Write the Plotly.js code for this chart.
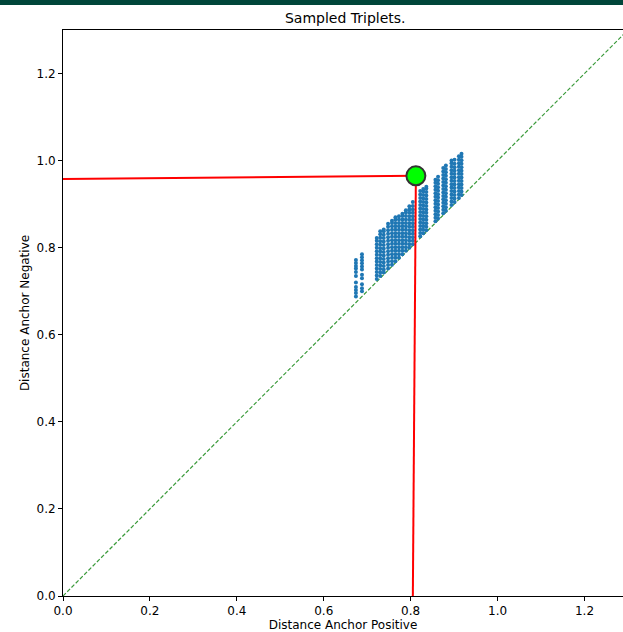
<!DOCTYPE html>
<html>
<head>
<meta charset="utf-8">
<script src="https://cdn.plot.ly/plotly-3.0.1.min.js"></script>
<style>
html,body{margin:0;padding:0;background:#fff;}
#bar{position:absolute;left:0;top:0;width:623px;height:5px;background:#00463a;z-index:10;}
#chart{width:623px;height:632px;}
</style>
</head>
<body>
<div id="bar"></div>
<div id="chart"></div>
<script>
// Sampled triplets: each column = one anchor-positive distance, many negatives
const colX = [0.674, 0.688, 0.722, 0.730, 0.738, 0.748, 0.757, 0.765, 0.773, 0.781, 0.789, 0.797, 0.805,
              0.822, 0.829, 0.836, 0.857, 0.863, 0.875, 0.881, 0.894, 0.901, 0.911, 0.917];
const colY = [
  [0.688,0.696,0.703,0.710,0.720,0.735,0.744,0.752,0.758,0.765,0.772],
  [0.700,0.707,0.716,0.730,0.738,0.750,0.757,0.764,0.771,0.778,0.785],
  [0.728,0.736,0.744,0.752,0.760,0.768,0.776,0.784,0.792,0.800,0.808,0.816,0.822],
  [0.735,0.743,0.751,0.759,0.767,0.775,0.783,0.791,0.799,0.807,0.815,0.823,0.831,0.838],
  [0.743,0.750,0.758,0.766,0.774,0.782,0.790,0.798,0.806,0.814,0.822,0.830,0.838,0.842],
  [0.752,0.760,0.768,0.776,0.784,0.792,0.800,0.808,0.816,0.824,0.832,0.840,0.848,0.855],
  [0.761,0.769,0.777,0.785,0.793,0.801,0.809,0.817,0.825,0.833,0.841,0.849,0.857,0.862],
  [0.769,0.777,0.785,0.793,0.801,0.809,0.817,0.825,0.833,0.841,0.849,0.857,0.865,0.870],
  [0.777,0.785,0.793,0.801,0.809,0.817,0.825,0.833,0.841,0.849,0.857,0.865,0.872],
  [0.785,0.793,0.801,0.809,0.817,0.825,0.833,0.841,0.849,0.857,0.865,0.873,0.878],
  [0.793,0.801,0.809,0.817,0.825,0.833,0.841,0.849,0.857,0.865,0.873,0.881,0.886],
  [0.800,0.808,0.816,0.824,0.832,0.840,0.848,0.856,0.864,0.872,0.880,0.888,0.895],
  [0.808,0.816,0.824,0.832,0.840,0.848,0.856,0.864,0.872,0.880,0.888,0.896,0.905],
  [0.826,0.834,0.842,0.850,0.858,0.866,0.874,0.882,0.890,0.898,0.906,0.914,0.922,0.930],
  [0.833,0.841,0.849,0.857,0.865,0.873,0.881,0.889,0.897,0.905,0.913,0.921,0.929,0.935],
  [0.840,0.848,0.856,0.864,0.872,0.880,0.888,0.896,0.904,0.912,0.920,0.928,0.936,0.940],
  [0.861,0.869,0.877,0.885,0.893,0.901,0.909,0.917,0.925,0.933,0.941,0.949,0.956],
  [0.867,0.875,0.883,0.891,0.899,0.907,0.915,0.923,0.931,0.939,0.947,0.955,0.963],
  [0.879,0.887,0.895,0.903,0.911,0.919,0.927,0.935,0.943,0.951,0.959,0.967,0.975,0.983],
  [0.885,0.893,0.901,0.909,0.917,0.925,0.933,0.941,0.949,0.957,0.965,0.973,0.981,0.989],
  [0.898,0.906,0.914,0.922,0.930,0.938,0.946,0.954,0.962,0.970,0.978,0.986,0.994,1.000],
  [0.905,0.913,0.921,0.929,0.937,0.945,0.953,0.961,0.969,0.977,0.985,0.993,1.002],
  [0.914,0.922,0.930,0.938,0.946,0.954,0.962,0.970,0.978,0.986,0.994,1.002,1.010],
  [0.921,0.929,0.937,0.945,0.953,0.961,0.969,0.977,0.985,0.993,1.001,1.009,1.016]
];
// Highlighted triplet and its projections onto the axes
const hlX = [0.812];
const hlY = [0.965];
const vLineX = [0.805, 0.812];
const vLineY = [0.0, 0.965];
const hLineX = [0.0, 0.812];
const hLineY = [0.958, 0.965];
const diagX = [0.0, 1.3];
const diagY = [0.0, 1.3];
const tickVals = [0, 0.2, 0.4, 0.6, 0.8, 1.0, 1.2];
const tickText = ["0.0","0.2","0.4","0.6","0.8","1.0","1.2"];

const px = [], py = [];
colX.forEach((x, i) => colY[i].forEach(y => { px.push(x); py.push(y); }));

const font = {family: "DejaVu Sans, sans-serif", size: 12, color: "#000"};
const traces = [
  {x: diagX, y: diagY, mode: "lines", line: {color: "#3a9a3a", width: 1.2, dash: "4px,2px"}, hoverinfo: "skip"},
  {x: px, y: py, mode: "markers", marker: {color: "#1f77b4", size: 4}, hoverinfo: "skip"},
  {x: hLineX, y: hLineY, mode: "lines", line: {color: "#ff0000", width: 2}},
  {x: vLineX, y: vLineY, mode: "lines", line: {color: "#ff0000", width: 2}},
  {x: hlX, y: hlY, mode: "markers", marker: {color: "#00ff00", size: 19, line: {color: "#333333", width: 2}}}
];
const axisCommon = {
  tickvals: tickVals, ticktext: tickText, ticks: "outside", ticklen: 4, tickwidth: 1, tickcolor: "#000",
  showgrid: false, zeroline: false, showline: true, linecolor: "#000", linewidth: 1,
  tickfont: font, automargin: false
};
const layout = {
  width: 623, height: 632,
  margin: {l: 63, r: 0, t: 30, b: 36},
  paper_bgcolor: "#fff", plot_bgcolor: "#fff",
  showlegend: false,
  font: font,
  title: {text: "Sampled Triplets.", font: {family: "DejaVu Sans, sans-serif", size: 14, color: "#000"},
          x: 0.504, xref: "paper", xanchor: "center", y: 0.972, yref: "container", yanchor: "middle"},
  xaxis: Object.assign({}, axisCommon, {range: [0, 1.2886], mirror: true,
          title: {text: "Distance Anchor Positive", font: font, standoff: 3}}),
  yaxis: Object.assign({}, axisCommon, {range: [0, 1.3], mirror: false,
          title: {text: "Distance Anchor Negative", font: font, standoff: 4}})
};
Plotly.newPlot("chart", traces, layout, {displayModeBar: false, staticPlot: true});
</script>
</body>
</html>
